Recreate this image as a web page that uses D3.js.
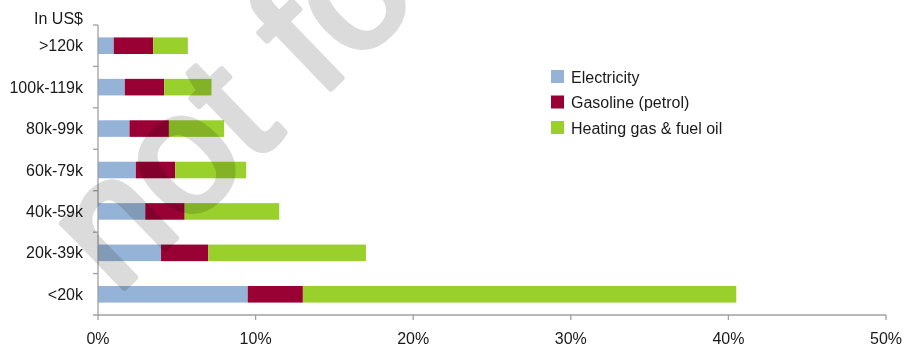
<!DOCTYPE html>
<html>
<head>
<meta charset="utf-8">
<script src="https://cdn.jsdelivr.net/npm/d3@7"></script>
<style>
  html, body { margin: 0; padding: 0; background: #fff; }
  svg { display: block; font-family: "Liberation Sans", Arial, sans-serif; }
</style>
</head>
<body>
<svg id="chart" width="907" height="347"></svg>
<script>
// Income brackets, listed bottom to top
const categories = ["<20k", "20k-39k", "40k-59k", "60k-79k", "80k-99k", "100k-119k", ">120k"];
// Share of income spent on each energy type (%)
const electricity = [9.5, 4.0, 3.0, 2.4, 2.0, 1.7, 1.0];
const gasoline    = [3.5, 3.0, 2.5, 2.5, 2.5, 2.5, 2.5];
const heating     = [27.5, 10.0, 6.0, 4.5, 3.5, 3.0, 2.2];
const seriesNames = ["Electricity", "Gasoline (petrol)", "Heating gas & fuel oil"];
const xTicks = [0, 10, 20, 30, 40, 50];

const colors = ["#95B3D7", "#990033", "#99D02C"];
const axisColor = "#a0a0a0";

const svg = d3.select("#chart");
const plotLeft = 98, plotRight = 886, plotTop = 25, plotBottom = 315;

const x = d3.scaleLinear().domain([0, 50]).range([plotLeft, plotRight]);
const y = d3.scaleBand()
  .domain(categories.slice().reverse())
  .range([plotTop, plotBottom])
  .paddingInner(0.6)
  .paddingOuter(0.3);

const rows = categories.map((c, i) => ({
  cat: c,
  "Electricity": electricity[i],
  "Gasoline (petrol)": gasoline[i],
  "Heating gas & fuel oil": heating[i]
}));
const stacked = d3.stack().keys(seriesNames)(rows);

// Stacked bars
svg.append("g").selectAll("g")
  .data(stacked)
  .join("g")
  .attr("fill", (d, i) => colors[i])
  .selectAll("rect")
  .data(d => d)
  .join("rect")
  .attr("x", d => x(d[0]))
  .attr("width", d => x(d[1]) - x(d[0]))
  .attr("y", d => y(d.data.cat))
  .attr("height", y.bandwidth());

// Axis lines and ticks
const axes = svg.append("g").attr("stroke", axisColor).attr("stroke-width", 1.3);
axes.append("line").attr("x1", plotLeft).attr("x2", plotLeft).attr("y1", plotTop).attr("y2", plotBottom);
axes.append("line").attr("x1", plotLeft - 5).attr("x2", plotRight).attr("y1", plotBottom).attr("y2", plotBottom);
const step = y.step();
d3.range(categories.length).forEach(i => {
  const yy = plotTop + i * step;
  axes.append("line").attr("x1", plotLeft - 5).attr("x2", plotLeft).attr("y1", yy).attr("y2", yy);
});
xTicks.forEach(t => {
  axes.append("line").attr("x1", x(t)).attr("x2", x(t)).attr("y1", plotBottom).attr("y2", plotBottom + 5);
});

// Tick labels
svg.append("g").selectAll("text")
  .data(xTicks)
  .join("text")
  .attr("x", d => x(d))
  .attr("y", 344)
  .attr("text-anchor", "middle")
  .attr("font-size", 16)
  .attr("fill", "#1a1a1a")
  .text(d => d + "%");

svg.append("g").selectAll("text")
  .data(categories)
  .join("text")
  .attr("x", 83)
  .attr("y", d => y(d) + y.bandwidth() / 2)
  .attr("dy", "0.35em")
  .attr("text-anchor", "end")
  .attr("font-size", 16)
  .attr("fill", "#1a1a1a")
  .text(d => d);

svg.append("text")
  .attr("x", 83).attr("y", 24)
  .attr("text-anchor", "end")
  .attr("font-size", 16)
  .attr("fill", "#1a1a1a")
  .text("In US$");

// Legend
const legend = svg.append("g").attr("transform", "translate(551,70)");
seriesNames.forEach((name, i) => {
  const g = legend.append("g").attr("transform", `translate(0,${i * 25.5})`);
  g.append("rect").attr("width", 13).attr("height", 13).attr("fill", colors[i]);
  g.append("text").attr("x", 20).attr("y", 12.5)
    .attr("font-size", 16).attr("fill", "#1a1a1a").text(name);
});

// Watermark
svg.append("text")
  .attr("transform", "translate(116,296) rotate(-44)")
  .attr("font-size", 170)
  .attr("fill", "#dbdbdb")
  .attr("stroke", "#dbdbdb")
  .attr("stroke-width", 6)
  .attr("stroke-linejoin", "round")
  .style("mix-blend-mode", "multiply")
  .text("not for");
</script>
</body>
</html>
